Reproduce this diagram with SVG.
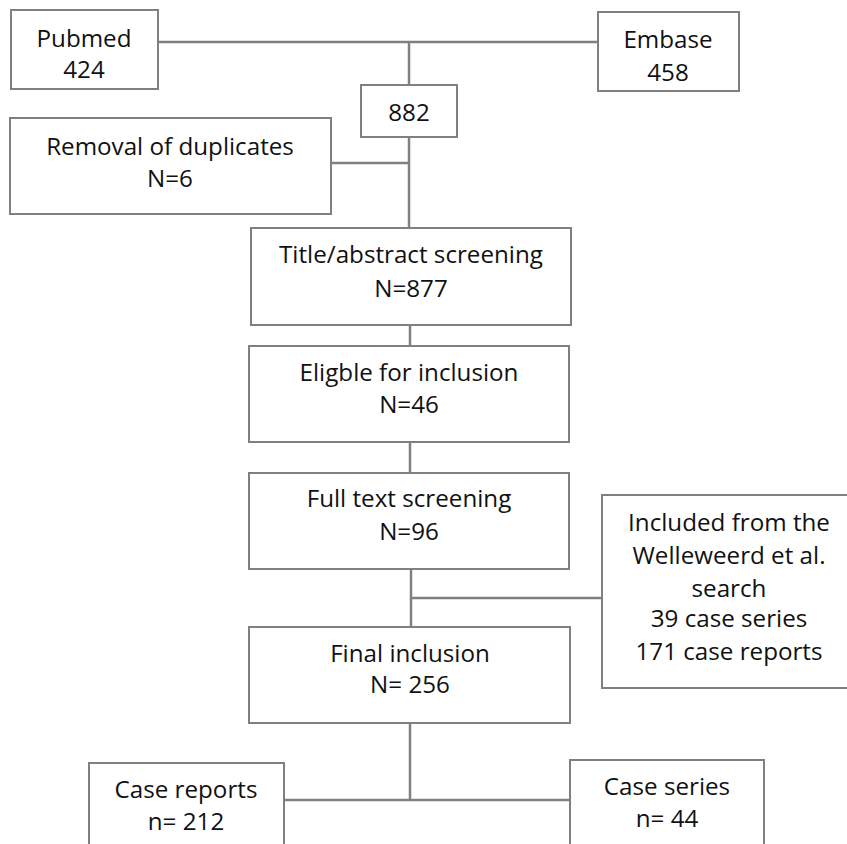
<svg xmlns="http://www.w3.org/2000/svg" width="847" height="844" viewBox="0 0 847 844">
<style>
.box{fill:#fff;stroke:#808080;stroke-width:2}
.ln{stroke:#808080;stroke-width:2.5;fill:none}
text{font-family:"Open Sans","Liberation Sans",sans-serif;font-size:24.2px;fill:#111;text-anchor:middle}
</style>
<rect width="847" height="844" fill="#fff"/>
<g id="connectors">
<line class="ln" x1="158" y1="42" x2="598" y2="42"/>
<line class="ln" x1="409" y1="42" x2="409" y2="85"/>
<line class="ln" x1="409" y1="137" x2="409" y2="228"/>
<line class="ln" x1="331" y1="163" x2="409" y2="163"/>
<line class="ln" x1="410" y1="325" x2="410" y2="346"/>
<line class="ln" x1="410" y1="442" x2="410" y2="473"/>
<line class="ln" x1="411" y1="569" x2="411" y2="627"/>
<line class="ln" x1="411" y1="598" x2="602" y2="598"/>
<line class="ln" x1="410" y1="723" x2="410" y2="800"/>
<line class="ln" x1="284" y1="800" x2="570" y2="800"/>
</g>
<g id="pubmed"><rect class="box" x="11" y="10" width="147" height="79"/><text x="84" y="47">Pubmed</text><text x="84" y="78">424</text></g>
<g id="embase"><rect class="box" x="598" y="12" width="141" height="79"/><text x="668" y="48">Embase</text><text x="668" y="81">458</text></g>
<g id="n882"><rect class="box" x="361" y="85" width="96" height="52"/><text x="409" y="121">882</text></g>
<g id="removal"><rect class="box" x="10" y="118" width="321" height="96"/><text x="170" y="155">Removal of duplicates</text><text x="170" y="187">N=6</text></g>
<g id="title"><rect class="box" x="251" y="228" width="320" height="97"/><text x="411" y="263">Title/abstract screening</text><text x="411" y="297">N=877</text></g>
<g id="eligible"><rect class="box" x="249" y="346" width="320" height="96"/><text x="409" y="381">Eligble for inclusion</text><text x="409" y="413">N=46</text></g>
<g id="fulltext"><rect class="box" x="249" y="473" width="320" height="96"/><text x="409" y="507">Full text screening</text><text x="409" y="540">N=96</text></g>
<g id="included"><rect class="box" x="602" y="495" width="254" height="193"/><text x="729" y="531">Included from the</text><text x="729" y="564">Welleweerd et al.</text><text x="729" y="597">search</text><text x="729" y="627">39 case series</text><text x="729" y="660">171 case reports</text></g>
<g id="final"><rect class="box" x="249" y="627" width="321" height="96"/><text x="410" y="662">Final inclusion</text><text x="410" y="693">N= 256</text></g>
<g id="casereports"><rect class="box" x="89" y="763" width="195" height="100"/><text x="186" y="798">Case reports</text><text x="186" y="830">n= 212</text></g>
<g id="caseseries"><rect class="box" x="570" y="760" width="194" height="100"/><text x="667" y="795">Case series</text><text x="667" y="827">n= 44</text></g>
</svg>
